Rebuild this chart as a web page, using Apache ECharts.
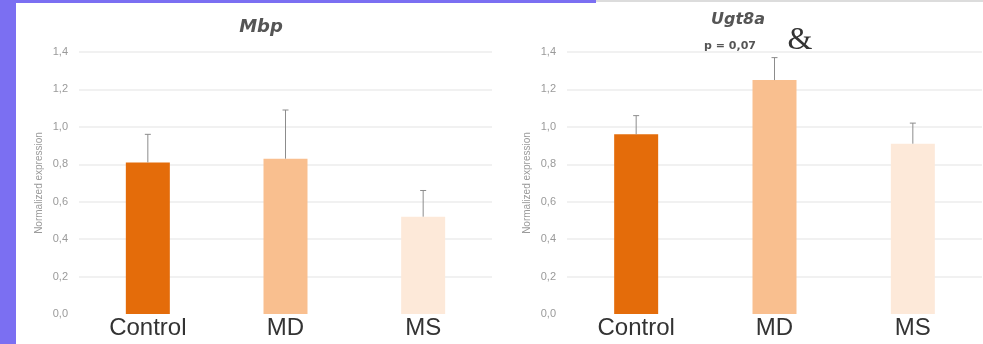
<!DOCTYPE html>
<html lang="en">
<head>
    <meta charset="UTF-8">
    <title>Mbp / Ugt8a</title>
    <script type="text/javascript" src="https://cdn.jsdelivr.net/npm/echarts@6/dist/echarts.min.js"></script>
    <style>
        html, body { margin: 0; padding: 0; background: #fff; }
        #main { width: 983px; height: 344px; }
    </style>
</head>
<body>
<div id="main"></div>
<script type="text/javascript">
    // 数据
    var categories = ['Control', 'MD', 'MS'];
    var barColors = ['#E46C0A', '#F9BF8F', '#FDE9D9'];
    var yTicks = [0, 0.2, 0.4, 0.6, 0.8, 1.0, 1.2, 1.4];
    var mbpMean = [0.81, 0.83, 0.52];
    var mbpErr = [0.15, 0.26, 0.14];
    var ugtMean = [0.96, 1.25, 0.91];
    var ugtErr = [0.10, 0.12, 0.11];

    var myChart = echarts.init(document.getElementById('main'));

    function yAxisOf(gridIndex) {
        return {
            type: 'value',
            gridIndex: gridIndex,
            min: yTicks[0],
            max: yTicks[yTicks.length - 1],
            interval: 0.2,
            name: 'Normalized expression',
            nameLocation: 'middle',
            nameGap: 35,
            nameTextStyle: {color: '#9a9a9a', fontSize: 10, fontFamily: 'Liberation Sans'},
            axisLine: {show: false},
            axisTick: {show: false},
            axisLabel: {
                color: '#9a9a9a', fontSize: 11, margin: 11, fontFamily: 'Liberation Sans',
                formatter: function (v) { return v.toFixed(1).replace('.', ','); }
            },
            splitLine: {show: true, showMinLine: false, lineStyle: {color: '#ececec', width: 1.5}}
        };
    }

    function xAxisOf(gridIndex) {
        return {
            type: 'category',
            gridIndex: gridIndex,
            data: categories,
            axisLine: {show: false},
            axisTick: {show: false},
            axisLabel: {color: '#333', fontSize: 24, margin: 2, fontFamily: 'Liberation Sans'}
        };
    }

    function barSeries(idx, values) {
        return {
            type: 'bar',
            xAxisIndex: idx,
            yAxisIndex: idx,
            barWidth: 44,
            data: values.map(function (v, i) {
                return {value: v, itemStyle: {color: barColors[i]}};
            })
        };
    }

    // 误差线（只画上半部分）
    function errSeries(idx, means, errs) {
        return {
            type: 'custom',
            xAxisIndex: idx,
            yAxisIndex: idx,
            z: 5,
            data: means.map(function (m, i) { return [i, m, m + errs[i]]; }),
            renderItem: function (params, api) {
                var base = api.coord([api.value(0), api.value(1)]);
                var top = api.coord([api.value(0), api.value(2)]);
                var style = {stroke: '#8c8c8c', lineWidth: 1};
                return {
                    type: 'group',
                    children: [
                        {type: 'line', shape: {x1: base[0], y1: base[1], x2: top[0], y2: top[1]}, style: style},
                        {type: 'line', shape: {x1: top[0] - 3, y1: top[1], x2: top[0] + 3, y2: top[1]}, style: style}
                    ]
                };
            }
        };
    }

    var option = {
        backgroundColor: '#fff',
        animation: false,
        grid: [
            {left: 79, right: 491, top: 52, bottom: 30},
            {left: 567, right: 1, top: 52, bottom: 30}
        ],
        xAxis: [xAxisOf(0), xAxisOf(1)],
        yAxis: [yAxisOf(0), yAxisOf(1)],
        series: [
            barSeries(0, mbpMean),
            errSeries(0, mbpMean, mbpErr),
            barSeries(1, ugtMean),
            errSeries(1, ugtMean, ugtErr)
        ],
        graphic: [
            // 左边紫色边框
            {type: 'rect', left: 0, top: 0, shape: {width: 16, height: 344}, style: {fill: '#7B6FF2'}, z: 100},
            {type: 'rect', left: 0, top: 0, shape: {width: 596, height: 3}, style: {fill: '#7B6FF2'}, z: 100},
            {type: 'rect', left: 596, top: 0, shape: {width: 387, height: 2}, style: {fill: '#dcdcdc'}, z: 100},
            // 标题
            {type: 'text', x: 261, y: 27, z: 50, style: {text: 'Mbp', fill: '#555', font: 'italic bold 18px "DejaVu Sans"', align: 'center', verticalAlign: 'middle'}},
            {type: 'text', x: 738, y: 20, z: 50, style: {text: 'Ugt8a', fill: '#555', font: 'italic bold 16px "DejaVu Sans"', align: 'center', verticalAlign: 'middle'}},
            {type: 'text', x: 730, y: 46, z: 50, style: {text: 'p = 0,07', fill: '#555', font: 'bold 11px "DejaVu Sans"', align: 'center', verticalAlign: 'middle'}},
            {type: 'rect', left: 763, top: 30, shape: {width: 75, height: 16}, style: {fill: '#fff'}, z: 40},
            {type: 'text', x: 800, y: 41, z: 50, style: {text: '&', fill: '#333', font: '32px "Liberation Serif"', align: 'center', verticalAlign: 'middle'}}
        ]
    };
    myChart.setOption(option);
</script>
</body>
</html>
